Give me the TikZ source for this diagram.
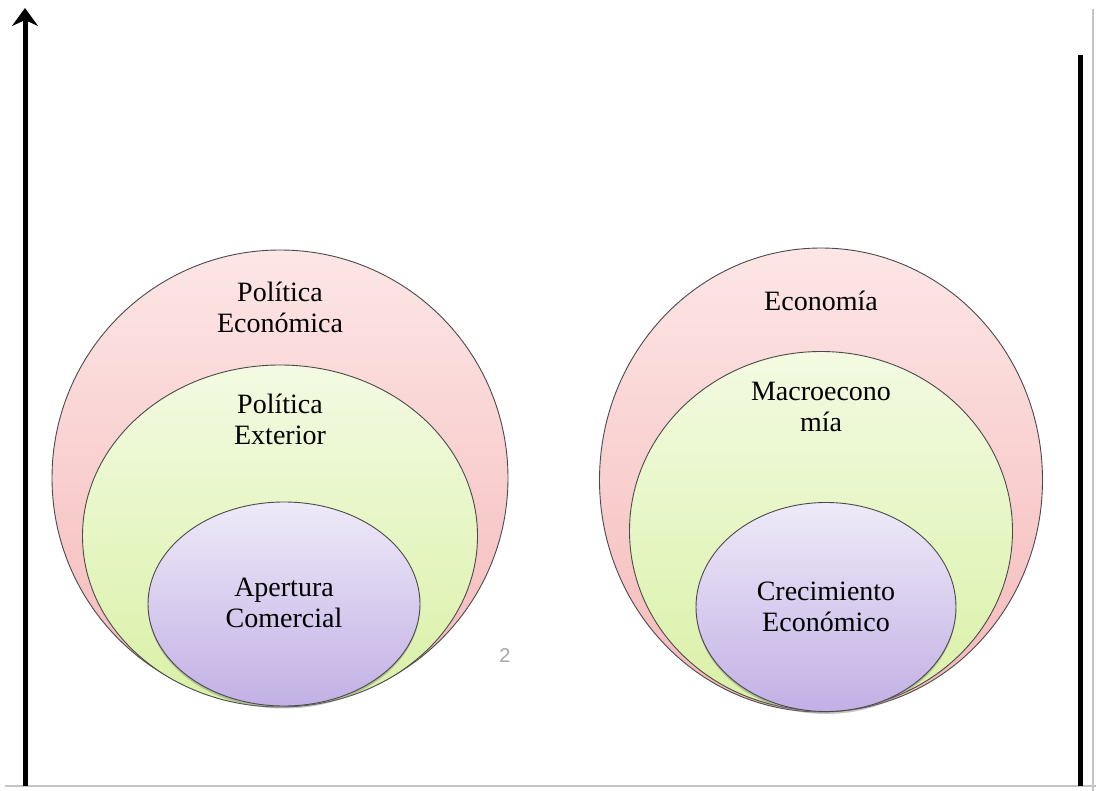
\documentclass[tikz,border=0pt]{standalone}
\usepackage{fontspec}
\setmainfont{Liberation Serif}
\newfontfamily\pagefont{Liberation Sans}
\usetikzlibrary{arrows.meta,shapes.geometric,shadows}

\definecolor{pinktop}{HTML}{FDE6E6}
\definecolor{pinkbot}{HTML}{F5B8B8}
\definecolor{greentop}{HTML}{F3FAE2}
\definecolor{greenbot}{HTML}{D9F1A6}
\definecolor{violettop}{HTML}{EEEAF8}
\definecolor{violetbot}{HTML}{C2B0E5}
\definecolor{rimgray}{HTML}{4A4A4A}
\definecolor{framegray}{HTML}{C4C4C4}

\tikzset{
	bubble/.style={ellipse, draw=rimgray, line width=0.9pt, inner sep=0pt},
	outerset/.style={bubble, top color=pinktop, bottom color=pinkbot},
	midset/.style={bubble, top color=greentop, bottom color=greenbot},
	innerset/.style={bubble, top color=violettop, bottom color=violetbot,
		drop shadow={opacity=0.45, shadow xshift=0pt, shadow yshift=-2.5pt}},
	lbl/.style={align=center, font=\fontsize{28}{31}\selectfont, inner sep=0pt},
}

\begin{document}
\begin{tikzpicture}[x=1pt, y=-1pt]
	\useasboundingbox (0,0) rectangle (1096,791);

	% frame of the page
	\coordinate (frameTR) at (1093,9);
	\coordinate (frameBR) at (1093,791);
	\coordinate (frameBL) at (5,786);
	\coordinate (frameBE) at (1096,786);
	\draw[framegray, line width=1.5pt] (frameTR) -- (frameBR);
	\draw[framegray, line width=1.5pt] (frameBL) -- (frameBE);

	% left set
	\node[outerset, minimum width=456pt, minimum height=456pt] (econL) at (280,478) {};
	\node[midset, minimum width=395pt, minimum height=342pt]   (extL)  at (280,536) {};
	\node[innerset, minimum width=272pt, minimum height=204pt] (openL) at (284,604) {};

	\node[lbl] (tEconL) at (280,307) {Política\\Económica};
	\node[lbl] (tExtL)  at (280,419) {Política\\Exterior};
	\node[lbl] (tOpenL) at (284,603) {Apertura\\Comercial};

	% right set
	\node[outerset, minimum width=443pt, minimum height=464pt] (econR)  at (821,480) {};
	\node[midset, minimum width=383pt, minimum height=359pt]   (macroR) at (821,531) {};
	\node[innerset, minimum width=260pt, minimum height=209pt] (growR)  at (826,607) {};

	\node[lbl] (tEconR)  at (821,301) {Economía};
	\node[lbl] (tMacroR) at (821,407) {Macroecono\\mía};
	\node[lbl] (tGrowR)  at (826,607) {Crecimiento\\Económico};

	% page number
	\node[font=\pagefont\fontsize{20}{24}\selectfont, text=gray!70] (pageno) at (505,656) {2};

	% axes
	\coordinate (axisLbot) at (25,786);
	\coordinate (axisLtop) at (25,8);
	\coordinate (axisRtop) at (1080,55);
	\coordinate (axisRbot) at (1080,786);
	\draw[line width=5pt, -{Stealth[length=18pt, width=26pt, inset=6pt]}] (axisLbot) -- (axisLtop);
	\draw[line width=5pt] (axisRtop) -- (axisRbot);
\end{tikzpicture}
\end{document}
